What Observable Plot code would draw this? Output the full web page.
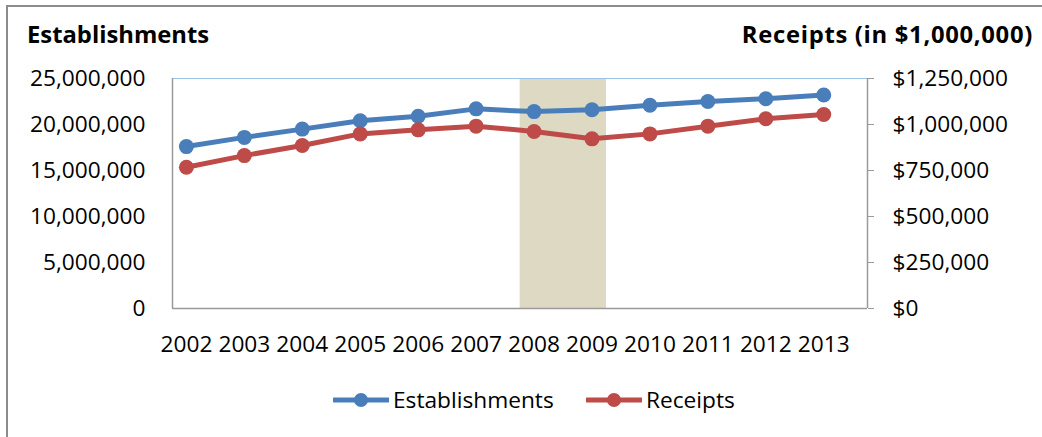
<!DOCTYPE html>
<html>
<head>
<meta charset="utf-8">
<script src="https://cdn.jsdelivr.net/npm/d3@7"></script>
<script src="https://cdn.jsdelivr.net/npm/@observablehq/plot@0.6"></script>
<style>
  html, body { margin: 0; padding: 0; background: #fff; }
  body { font-family: "Open Sans", Lato, sans-serif; color: #000; }
  #wrap { position: relative; width: 1042px; height: 437px; overflow: hidden; background: #fff; }
  #border { position: absolute; z-index: 10; left: 6px; top: 5px; width: 1100px; height: 500px;
            border-left: 2px solid #8c8c8c; border-top: 2px solid #8c8c8c; pointer-events: none; }
  #header { position: relative; height: 56px; }
  .title { position: absolute; top: 19px; font-weight: bold; font-size: 23.8px; line-height: 30px; white-space: nowrap; }
  #tl { left: 27px; }
  #tr { right: 9px; letter-spacing: 0.7px; }
  #chart { position: relative; height: 314px; }
  #legend { position: relative; height: 67px; }
  .item { position: absolute; top: 15px; display: flex; align-items: center; font-size: 22.7px; line-height: 30px; white-space: nowrap; }
  .item svg { margin-right: 4px; }
</style>
</head>
<body>
<div id="wrap">
  <div id="border"></div>
  <div id="header">
    <div class="title" id="tl">Establishments</div>
    <div class="title" id="tr">Receipts (in $1,000,000)</div>
  </div>
  <div id="chart"></div>
  <div id="legend"></div>
</div>
<script>
// ---- data ----
const years = [2002, 2003, 2004, 2005, 2006, 2007, 2008, 2009, 2010, 2011, 2012, 2013];
const establishments = [17600000, 18600000, 19500000, 20400000, 20900000, 21700000, 21400000, 21600000, 22100000, 22500000, 22800000, 23200000];
const receipts = [768000, 831000, 886000, 949000, 971000, 991000, 962000, 922000, 949000, 991000, 1031000, 1054000];
const leftTicks = [0, 5000000, 10000000, 15000000, 20000000, 25000000];
const rightTicks = [0, 250000, 500000, 750000, 1000000, 1250000];
const recession = [2007.76, 2009.25];
const seriesNames = ["Establishments", "Receipts"];
const colors = ["#4a7ebb", "#be4b48"];

const yMax = leftTicks[leftTicks.length - 1];
const ratio = yMax / rightTicks[rightTicks.length - 1];

const rows = [];
years.forEach((yr, i) => {
  rows.push({year: yr, series: seriesNames[0], v: establishments[i]});
  rows.push({year: yr, series: seriesNames[1], v: receipts[i] * ratio});
});

const xDomain = [2001.76, 2013.755];
const fmt = d3.format(",");

const plot = Plot.plot({
  width: 1042,
  height: 314,
  marginLeft: 172,
  marginRight: 175,
  marginTop: 22,
  marginBottom: 62,
  style: {fontFamily: "'Open Sans', Lato, sans-serif", fontSize: "22.7px", color: "#000", background: "transparent"},
  x: {domain: xDomain},
  y: {domain: [0, yMax]},
  marks: [
    Plot.rect([recession], {x1: d => d[0], x2: d => d[1], y1: 0, y2: yMax, fill: "#ddd9c3"}),
    Plot.ruleY([yMax], {stroke: "#9dc3e6", strokeWidth: 1}),
    Plot.ruleY([0], {stroke: "#9a9a9a", strokeWidth: 1.5}),
    Plot.ruleX([xDomain[0]], {stroke: "#9a9a9a", strokeWidth: 1.5}),
    Plot.ruleX([xDomain[1]], {stroke: "#9a9a9a", strokeWidth: 1.5}),
    Plot.axisY(leftTicks, {anchor: "left", tickSize: 0, tickPadding: 27, tickFormat: fmt, label: null}),
    Plot.axisY(rightTicks.map(t => t * ratio), {anchor: "right", tickSize: 6, tickPadding: 19, stroke: "#9a9a9a",
      tickFormat: d => "$" + fmt(Math.round(d / ratio)), label: null}),
    Plot.axisX(years, {anchor: "bottom", tickSize: 0, tickPadding: 27, tickFormat: d => String(d), label: null}),
    Plot.line(rows, {x: "year", y: "v", z: "series", stroke: d => colors[seriesNames.indexOf(d.series)], strokeWidth: 5}),
    Plot.dot(rows, {x: "year", y: "v", r: 7.5, fill: d => colors[seriesNames.indexOf(d.series)], stroke: "none"})
  ]
});
document.getElementById("chart").appendChild(plot);

// ---- legend ----
const legend = document.getElementById("legend");
const legendLeft = [333, 586];
seriesNames.forEach((name, i) => {
  const item = document.createElement("div");
  item.className = "item";
  item.style.left = legendLeft[i] + "px";
  item.innerHTML = `<svg width="56" height="16"><line x1="1" x2="55" y1="8" y2="8" stroke="${colors[i]}" stroke-width="5" stroke-linecap="round"/><circle cx="28" cy="8" r="7" fill="${colors[i]}"/></svg><span>${name}</span>`;
  legend.appendChild(item);
});
</script>
</body>
</html>
